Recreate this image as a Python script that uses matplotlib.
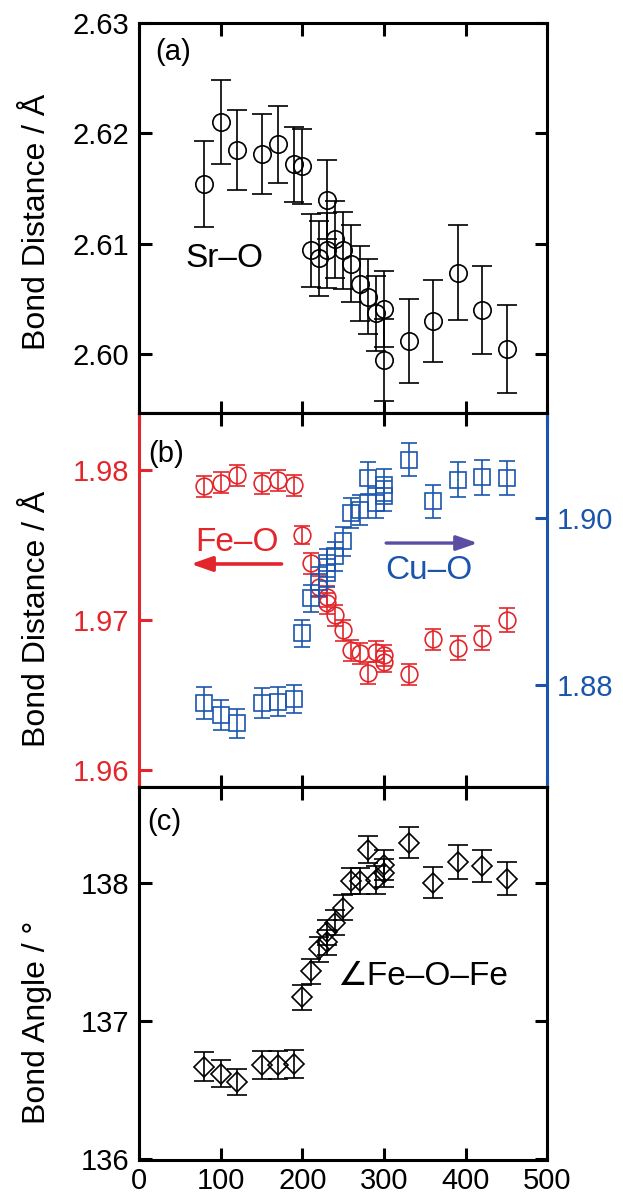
import matplotlib
matplotlib.use("Agg")
import matplotlib.pyplot as plt

plt.rcParams['font.family'] = ['Liberation Sans', 'DejaVu Sans']

# ---------------- data ----------------
T = [80, 100, 120, 150, 170, 190, 200, 210, 220, 230, 230, 240, 250, 260,
     270, 280, 290, 300, 300, 330, 360, 390, 420, 450]

sr_o = [2.6154, 2.6210, 2.6185, 2.6181, 2.6190, 2.6172, 2.6170, 2.6094,
        2.6087, 2.6140, 2.6094, 2.6104, 2.6094, 2.6082, 2.6064, 2.6052,
        2.6037, 2.6041, 2.5995, 2.6012, 2.6030, 2.6074, 2.6040, 2.6005]
sr_o_err = [0.0039, 0.0038, 0.0036, 0.0036, 0.0035, 0.0034, 0.0034, 0.0033,
            0.0034, 0.0036, 0.0034, 0.0035, 0.0035, 0.0035, 0.0034, 0.0034,
            0.0034, 0.0034, 0.0037, 0.0038, 0.0037, 0.0043, 0.0040, 0.0040]

fe_o = [1.97893, 1.97916, 1.97964, 1.97911, 1.97933, 1.97898, 1.97567,
        1.97378, 1.97222, 1.97156, 1.97111, 1.97033, 1.96933, 1.96800,
        1.96778, 1.96647, 1.96790, 1.96765, 1.96722, 1.96640, 1.96873,
        1.96811, 1.96880, 1.97000]
fe_o_err = [0.0007, 0.0007, 0.0007, 0.0007, 0.0007, 0.0007, 0.0006, 0.0007,
            0.0007, 0.0007, 0.0007, 0.0007, 0.0007, 0.0007, 0.0007, 0.0007,
            0.0007, 0.0007, 0.0007, 0.0007, 0.0007, 0.0008, 0.0008, 0.0008]

cu_o = [1.8778, 1.8764, 1.8754, 1.8778, 1.8780, 1.8783, 1.8862, 1.8904,
        1.8924, 1.8934, 1.8946, 1.8954, 1.8972, 1.9006, 1.9010, 1.9048,
        1.9018, 1.9040, 1.9026, 1.9070, 1.9020, 1.9046, 1.9049, 1.9048]
cu_o_err = [0.0019, 0.0018, 0.0017, 0.0018, 0.0017, 0.0017, 0.0016, 0.0016,
            0.0017, 0.0017, 0.0017, 0.0017, 0.0017, 0.0018, 0.0018, 0.0019,
            0.0018, 0.0019, 0.0018, 0.0020, 0.0020, 0.0021, 0.0021, 0.0020]

angle = [136.67, 136.62, 136.56, 136.68, 136.68, 136.69, 137.17, 137.36,
         137.52, 137.64, 137.57, 137.71, 137.82, 138.01, 138.01, 138.24,
         138.02, 138.13, 138.07, 138.29, 138.00, 138.15, 138.12, 138.03]
angle_err = [0.106, 0.100, 0.096, 0.100, 0.100, 0.100, 0.090, 0.090,
             0.090, 0.090, 0.090, 0.090, 0.090, 0.095, 0.095, 0.100,
             0.100, 0.110, 0.100, 0.110, 0.110, 0.120, 0.115, 0.120]

xticks = [0, 100, 200, 300, 400, 500]
yticks_a = [2.60, 2.61, 2.62, 2.63]
yticks_b_left = [1.96, 1.97, 1.98]
yticks_b_right = [1.88, 1.90]
yticks_c = [136, 137, 138]

RED = '#e3262b'
BLUE = '#1a55ad'
PURPLE = '#5a4ea3'
LW = 2.2
TICKFS = 21
LABFS = 23
LABX = -0.212

fig = plt.figure(figsize=(6.23, 11.96), dpi=100)
L, W = 0.2231, 0.6557
ax_a = fig.add_axes([L, 0.6547, W, 0.3263])
ax_b = fig.add_axes([L, 0.3422, W, 0.3125])
ax_c = fig.add_axes([L, 0.0301, W, 0.3121])


def style(ax):
    for s in ax.spines.values():
        s.set_linewidth(LW)
    ax.set_xlim(0, 500)
    ax.set_xticks(xticks)
    ax.tick_params(direction='in', length=9, width=LW, labelsize=TICKFS,
                   top=True, right=True, pad=7)
    ax.tick_params(axis='x', pad=5)


# ---------- (a) ----------
style(ax_a)
ax_a.errorbar(T, sr_o, yerr=sr_o_err, fmt='o', ms=12.5, mfc='none', mec='black',
              mew=1.2, ecolor='black', elinewidth=1.2, capsize=7, capthick=1.2)
ax_a.set_ylim(2.5947, 2.63)
ax_a.set_yticks(yticks_a)
ax_a.set_yticklabels(['%.2f' % v for v in yticks_a])
ax_a.tick_params(axis='x', labelbottom=False)
ax_a.set_ylabel('Bond Distance / Å', fontsize=LABFS)
ax_a.yaxis.set_label_coords(LABX, 0.49)
ax_a.text(0.039, 0.905, '(a)', transform=ax_a.transAxes, fontsize=21, va='baseline')
ax_a.text(0.113, 0.375, 'Sr–O', transform=ax_a.transAxes, fontsize=24, va='baseline')

# ---------- (b) ----------
style(ax_b)
ax_b.tick_params(right=False)
ax_b.errorbar(T, fe_o, yerr=fe_o_err, fmt='o', ms=12, mfc='none', mec=RED,
              mew=1.2, ecolor=RED, elinewidth=1.2, capsize=6, capthick=1.2)
ax_b.set_ylim(1.95889, 1.9838)
ax_b.set_yticks(yticks_b_left)
ax_b.set_yticklabels(['%.2f' % v for v in yticks_b_left])
ax_b.tick_params(axis='y', colors=RED)
ax_b.tick_params(axis='x', labelbottom=False)
ax_b.spines['left'].set_color(RED)
ax_b.spines['right'].set_visible(False)
ax_b.set_ylabel('Bond Distance / Å', fontsize=LABFS)
ax_b.yaxis.set_label_coords(LABX, 0.45)

ax_b2 = ax_b.twinx()
ax_b2.set_position([L, 0.3422, W, 0.3125])
ax_b2.errorbar(T, cu_o, yerr=cu_o_err, fmt='s', ms=11.3, mfc='none', mec=BLUE,
               mew=1.2, ecolor=BLUE, elinewidth=1.2, capsize=6, capthick=1.2)
ax_b2.set_ylim(1.8678, 1.9126)
ax_b2.set_yticks(yticks_b_right)
ax_b2.set_yticklabels(['%.2f' % v for v in yticks_b_right])
for s in ax_b2.spines.values():
    s.set_linewidth(LW)
ax_b2.spines['right'].set_color(BLUE)
ax_b2.spines['left'].set_visible(False)
ax_b2.tick_params(axis='y', direction='in', length=9, width=LW, labelsize=TICKFS,
                  colors=BLUE, pad=7)
ax_b2.set_xlim(0, 500)

ax_b.text(0.022, 0.870, '(b)', transform=ax_b.transAxes, fontsize=21, va='baseline')
ax_b.text(0.137, 0.632, 'Fe–O', transform=ax_b.transAxes, fontsize=24,
          va='baseline', color=RED)
ax_b.text(0.602, 0.557, 'Cu–O', transform=ax_b.transAxes, fontsize=24,
          va='baseline', color=BLUE)
ax_b.annotate('', xy=(0.127, 0.596), xytext=(0.349, 0.596), xycoords='axes fraction',
              arrowprops=dict(arrowstyle='-|>,head_length=0.8,head_width=0.28',
                              mutation_scale=16, color=RED, lw=2.6,
                              shrinkA=0, shrinkB=0))
ax_b.annotate('', xy=(0.829, 0.652), xytext=(0.605, 0.652), xycoords='axes fraction',
              arrowprops=dict(arrowstyle='-|>,head_length=0.8,head_width=0.28',
                              mutation_scale=16, color=PURPLE, lw=2.4,
                              shrinkA=0, shrinkB=0))

# ---------- (c) ----------
style(ax_c)
ax_c.errorbar(T, angle, yerr=angle_err, fmt='D', ms=10.2, mfc='none', mec='black',
              mew=1.2, ecolor='black', elinewidth=1.2, capsize=7, capthick=1.2)
ax_c.set_ylim(135.995, 138.694)
ax_c.set_yticks(yticks_c)
ax_c.set_xticklabels([str(v) for v in xticks])
ax_c.set_ylabel('Bond Angle / °', fontsize=LABFS)
ax_c.yaxis.set_label_coords(LABX, 0.37)
ax_c.text(0.019, 0.884, '(c)', transform=ax_c.transAxes, fontsize=21, va='baseline')
ax_c.text(0.484, 0.469, '∠Fe–O–Fe', transform=ax_c.transAxes, fontsize=24,
          va='baseline')

fig.savefig('out.png', dpi=100)
